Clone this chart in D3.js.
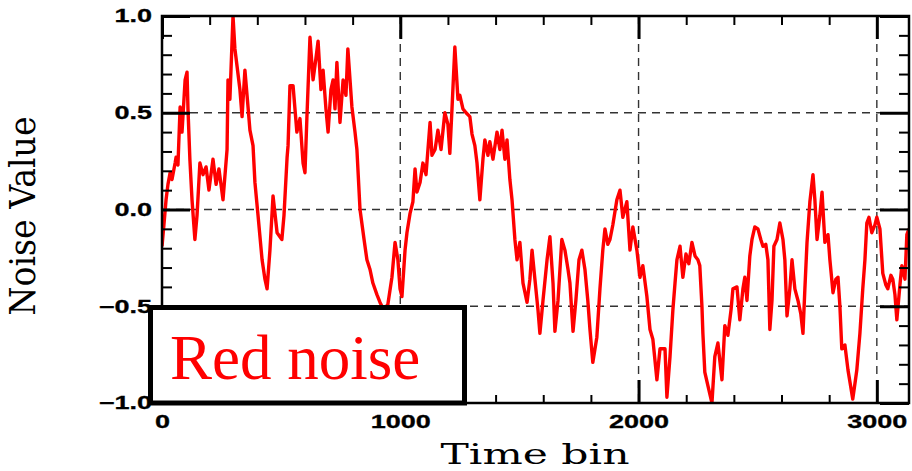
<!DOCTYPE html>
<html>
<head>
<meta charset="utf-8">
<script src="https://cdn.jsdelivr.net/npm/d3@7"></script>
<style>
  body { margin: 0; background: #fff; }
</style>
</head>
<body>
<div id="chart"></div>
<script>
// values
const timeBins = [0,8,17,25,34,42,55,59,67,76,84,97,105,109,117,126,138,147,159,172,185,197,214,227,239,256,273,277,285,298,306,315,327,336,348,361,369,382,390,403,420,432,441,453,466,483,503,512,525,529,537,550,558,566,579,592,600,608,621,634,646,655,667,676,688,697,709,718,726,734,747,760,772,780,797,810,818,831,848,860,873,885,902,915,931,948,965,978,990,999,1007,1020,1028,1041,1053,1062,1070,1083,1095,1108,1125,1133,1146,1158,1171,1187,1200,1208,1217,1229,1242,1250,1263,1276,1292,1301,1313,1322,1334,1347,1355,1368,1376,1389,1406,1418,1427,1439,1448,1460,1469,1481,1490,1502,1515,1532,1544,1553,1565,1578,1586,1599,1616,1628,1641,1649,1662,1678,1691,1704,1712,1725,1737,1750,1762,1775,1787,1796,1808,1825,1838,1850,1859,1871,1880,1892,1909,1922,1934,1951,1964,1976,1993,2006,2018,2035,2048,2060,2077,2090,2111,2119,2132,2144,2153,2161,2174,2186,2199,2211,2224,2237,2249,2257,2266,2270,2278,2291,2308,2320,2333,2350,2362,2375,2388,2396,2413,2425,2438,2446,2455,2467,2476,2488,2501,2513,2522,2534,2543,2551,2560,2568,2581,2593,2606,2614,2623,2635,2644,2656,2669,2681,2690,2698,2707,2719,2732,2740,2749,2761,2770,2782,2795,2803,2816,2828,2837,2845,2853,2866,2879,2887,2899,2908,2916,2929,2941,2950,2958,2967,2979,2992,3000,3013,3025,3038,3046,3059,3067,3076,3084,3097,3105,3118,3126,3135];

const noiseValues = [-0.19,-0.08,0.05,0.13,0.19,0.155,0.24,0.27,0.23,0.53,0.40,0.67,0.71,0.52,0.26,0.05,-0.155,-0.03,0.24,0.18,0.22,0.10,0.26,0.13,0.21,0.05,0.31,0.67,0.57,1.0,0.83,0.74,0.62,0.48,0.72,0.53,0.41,0.33,0.14,-0.03,-0.26,-0.36,-0.41,-0.21,0.07,-0.12,-0.155,-0.03,0.27,0.33,0.64,0.64,0.52,0.40,0.47,0.24,0.19,0.47,0.89,0.67,0.78,0.87,0.62,0.72,0.52,0.40,0.62,0.67,0.52,0.76,0.45,0.67,0.59,0.83,0.53,0.40,0.31,0.0,-0.155,-0.26,-0.31,-0.38,-0.44,-0.48,-0.52,-0.49,-0.35,-0.17,-0.26,-0.41,-0.45,-0.21,-0.12,-0.02,0.04,0.21,0.09,0.14,0.24,0.18,0.45,0.28,0.31,0.41,0.31,0.50,0.44,0.29,0.52,0.84,0.57,0.59,0.52,0.50,0.48,0.39,0.33,0.24,0.05,0.26,0.36,0.28,0.35,0.26,0.40,0.31,0.41,0.26,0.36,0.155,0.05,-0.155,-0.26,-0.17,-0.38,-0.48,-0.36,-0.21,-0.36,-0.52,-0.64,-0.47,-0.26,-0.14,-0.38,-0.63,-0.47,-0.155,-0.21,-0.31,-0.38,-0.63,-0.47,-0.26,-0.21,-0.31,-0.47,-0.62,-0.79,-0.66,-0.41,-0.21,-0.10,-0.18,-0.155,-0.08,0.05,0.10,-0.04,0.04,-0.21,-0.09,-0.21,-0.35,-0.29,-0.45,-0.62,-0.67,-0.88,-0.72,-0.72,-0.97,-0.76,-0.52,-0.38,-0.26,-0.19,-0.35,-0.23,-0.28,-0.17,-0.24,-0.26,-0.29,-0.50,-0.64,-0.84,-0.91,-1.0,-0.76,-0.69,-0.88,-0.60,-0.65,-0.52,-0.41,-0.40,-0.57,-0.41,-0.35,-0.47,-0.24,-0.155,-0.09,-0.10,-0.155,-0.19,-0.18,-0.26,-0.62,-0.47,-0.19,-0.155,-0.07,-0.155,-0.26,-0.55,-0.41,-0.26,-0.41,-0.47,-0.54,-0.64,-0.41,-0.17,0.04,0.18,0.05,-0.155,-0.03,0.09,-0.17,-0.13,-0.26,-0.43,-0.36,-0.35,-0.50,-0.72,-0.70,-0.83,-0.89,-0.98,-0.90,-0.83,-0.64,-0.41,-0.26,-0.07,-0.04,-0.12,-0.08,-0.04,-0.10,-0.33,-0.39,-0.41,-0.34,-0.36,-0.44,-0.57,-0.39,-0.29,-0.36,-0.13,-0.10];

const xMajorTicks = [0, 1000, 2000, 3000];
const xMinorTicks = [200, 400, 600, 800, 1200, 1400, 1600, 1800, 2200, 2400, 2600, 2800];
const yMajorTicks = [-1, -0.5, 0, 0.5, 1];
const yMinorTicks = [-0.9, -0.8, -0.7, -0.6, -0.4, -0.3, -0.2, -0.1, 0.1, 0.2, 0.3, 0.4, 0.6, 0.7, 0.8, 0.9];
const xGridLines = [1000, 2000, 3000];
const yGridLines = [-0.5, 0, 0.5];
const xTitle = "Time bin";
const yTitle = "Noise Value";
const boxLabel = "Red noise";

const width = 912, height = 471;
const margin = { top: 16, right: 3, bottom: 68, left: 162 };
const innerW = width - margin.left - margin.right;
const innerH = height - margin.top - margin.bottom;

const svg = d3.select("#chart")
    .append("svg")
    .attr("width", width)
    .attr("height", height);

const x = d3.scaleLinear().domain([0, 3135]).range([0, innerW]);
const y = d3.scaleLinear().domain([-1, 1]).range([innerH, 0]);

const g = svg.append("g")
    .attr("transform", `translate(${margin.left},${margin.top})`);

// dashed grid
g.append("g").selectAll("line")
    .data(xGridLines)
    .join("line")
    .attr("x1", d => x(d)).attr("x2", d => x(d))
    .attr("y1", 0).attr("y2", innerH);
g.append("g").selectAll("line")
    .data(yGridLines)
    .join("line")
    .attr("x1", 0).attr("x2", innerW)
    .attr("y1", d => y(d)).attr("y2", d => y(d));
g.selectAll("g line")
    .attr("stroke", "#333")
    .attr("stroke-width", 1.4)
    .attr("stroke-dasharray", "8,6");

// noise line
svg.append("clipPath").attr("id", "plotClip")
    .append("rect").attr("width", innerW).attr("height", innerH);

const series = d3.zip(timeBins, noiseValues);
g.append("path")
    .datum(series)
    .attr("clip-path", "url(#plotClip)")
    .attr("fill", "none")
    .attr("stroke", "#ff0000")
    .attr("stroke-width", 3.4)
    .attr("stroke-linejoin", "round")
    .attr("d", d3.line().x(d => x(d[0])).y(d => y(d[1])));

// ticks (inward, on all four sides)
function tickAxis(axis, transform, width, labels) {
    const a = g.append("g").attr("transform", transform).call(axis);
    a.select(".domain").remove();
    a.selectAll(".tick line").attr("stroke", "#000").attr("stroke-width", width);
    if (!labels) a.selectAll("text").remove();
    return a;
}
tickAxis(d3.axisBottom(x).tickValues(xMinorTicks).tickSize(-8), `translate(0,${innerH})`, 2, false);
tickAxis(d3.axisTop(x).tickValues(xMinorTicks).tickSize(-9), "", 2, false);
tickAxis(d3.axisTop(x).tickValues(xMajorTicks).tickSize(-23), "", 3, false);
tickAxis(d3.axisLeft(y).tickValues(yMinorTicks).tickSize(-10), "", 2, false);
tickAxis(d3.axisRight(y).tickValues(yMinorTicks).tickSize(-10), `translate(${innerW},0)`, 2, false);
tickAxis(d3.axisRight(y).tickValues(yMajorTicks).tickSize(-29), `translate(${innerW},0)`, 3, false);

tickAxis(d3.axisBottom(x).tickValues(xMajorTicks).tickSize(-23).tickPadding(12)
    .tickFormat(d3.format("d")), `translate(0,${innerH})`, 3, true);
tickAxis(d3.axisLeft(y).tickValues(yMajorTicks).tickSize(-28).tickPadding(10)
    .tickFormat(d3.format(".1f")), "", 3, true);

const tickText = svg.selectAll(".tick text")
    .attr("font-family", "'Liberation Sans', Arial, sans-serif")
    .attr("font-weight", "bold")
    .attr("font-size", "18px")
    .attr("fill", "#000")
    .attr("stroke", "#000")
    .attr("stroke-width", 0.3);
// the reference lettering is wide, so stretch it
tickText.each(function() {
    const len = this.getComputedTextLength();
    d3.select(this).attr("textLength", len * 1.5).attr("lengthAdjust", "spacingAndGlyphs");
});

// frame
g.append("rect")
    .attr("width", innerW).attr("height", innerH)
    .attr("fill", "none")
    .attr("stroke", "#000")
    .attr("stroke-width", 2.5);

// axis titles
svg.append("text")
    .attr("x", 535).attr("y", 464)
    .attr("text-anchor", "middle")
    .attr("font-family", "'DejaVu Serif', serif")
    .attr("font-size", "27px")
    .attr("fill", "#000")
    .attr("textLength", 189).attr("lengthAdjust", "spacingAndGlyphs")
    .text(xTitle);

svg.append("text")
    .attr("transform", "translate(35,216) scale(1.45,1) rotate(-90)")
    .attr("text-anchor", "middle")
    .attr("font-family", "'DejaVu Serif', serif")
    .attr("font-size", "25px")
    .attr("fill", "#000")
    .attr("textLength", 199).attr("lengthAdjust", "spacingAndGlyphs")
    .text(yTitle);

// "Red noise" box
svg.append("rect")
    .attr("x", 150.5).attr("y", 307.5)
    .attr("width", 314).attr("height", 95.5)
    .attr("fill", "#fff")
    .attr("stroke", "#000")
    .attr("stroke-width", 5);
svg.append("text")
    .attr("x", 170).attr("y", 379)
    .attr("font-family", "'Liberation Serif', 'Times New Roman', serif")
    .attr("font-size", "63px")
    .attr("fill", "#ff0000")
    .text(boxLabel);
</script>
</body>
</html>
